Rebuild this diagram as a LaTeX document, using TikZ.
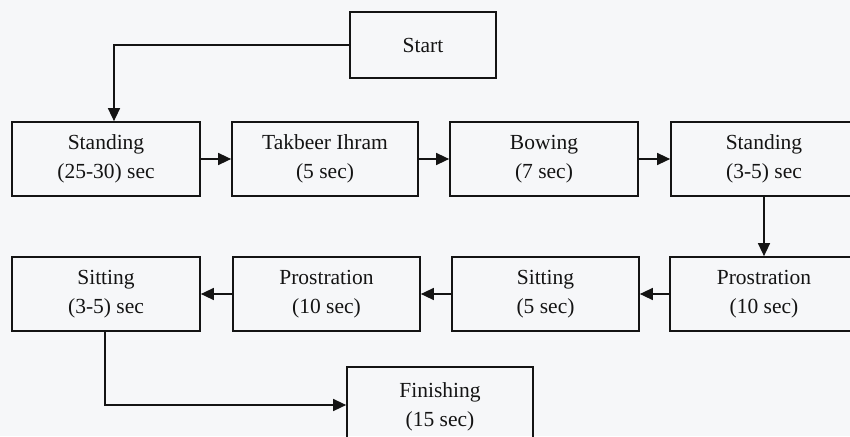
\documentclass[tikz,border=0pt]{standalone}
\usepackage{fontspec}
\setmainfont{Liberation Serif}
\usetikzlibrary{arrows.meta}
\definecolor{bgc}{HTML}{F6F7F9}
\definecolor{ink}{HTML}{141414}
\begin{document}
\begin{tikzpicture}[x=1pt,y=-1pt,
  box/.style={draw=ink,line width=1.7pt,fill=none,inner sep=0pt,text=ink,align=center,
    font=\fontsize{21.5}{29}\selectfont},
  conn/.style={draw=ink,line width=1.4pt,-{Triangle[length=13pt,width=12pt]}}]
\useasboundingbox (0,0) rectangle (850,436);
\clip (0,0) rectangle (850,436);
\fill[bgc] (0,0) rectangle (850,436);
% row 0
\node[box,minimum width=146pt,minimum height=66pt] (start) at (423,45) {Start};
% row 1
\node[box,minimum width=188pt,minimum height=74pt] (s1) at (106,159) {Standing\\(25-30) sec};
\node[box,minimum width=186pt,minimum height=74pt] (tk) at (325,159) {Takbeer Ihram\\(5 sec)};
\node[box,minimum width=188pt,minimum height=74pt] (bw) at (544,159) {Bowing\\(7 sec)};
\node[box,minimum width=186pt,minimum height=74pt] (s2) at (764,159) {Standing\\(3-5) sec};
% row 2
\node[box,minimum width=188pt,minimum height=74pt] (si2) at (106,294) {Sitting\\(3-5) sec};
\node[box,minimum width=187pt,minimum height=74pt] (pr2) at (326.5,294) {Prostration\\(10 sec)};
\node[box,minimum width=187pt,minimum height=74pt] (si1) at (545.5,294) {Sitting\\(5 sec)};
\node[box,minimum width=188pt,minimum height=74pt] (pr1) at (764,294) {Prostration\\(10 sec)};
% finishing
\node[box,minimum width=186pt,minimum height=80pt] (fin) at (440,407) {Finishing\\(15 sec)};
% connectors
\coordinate (c1) at (114,45);
\draw[conn] (start.west) -- (c1) -- (s1.north -| c1);
\draw[conn] (s1) -- (tk);
\draw[conn] (tk) -- (bw);
\draw[conn] (bw) -- (s2);
\draw[conn] (s2) -- (pr1);
\draw[conn] (pr1) -- (si1);
\draw[conn] (si1) -- (pr2);
\draw[conn] (pr2) -- (si2);
\coordinate (c2) at (105,405);
\draw[conn] (si2.south -| c2) -- (c2) -- (fin.west |- c2);
\end{tikzpicture}
\end{document}
